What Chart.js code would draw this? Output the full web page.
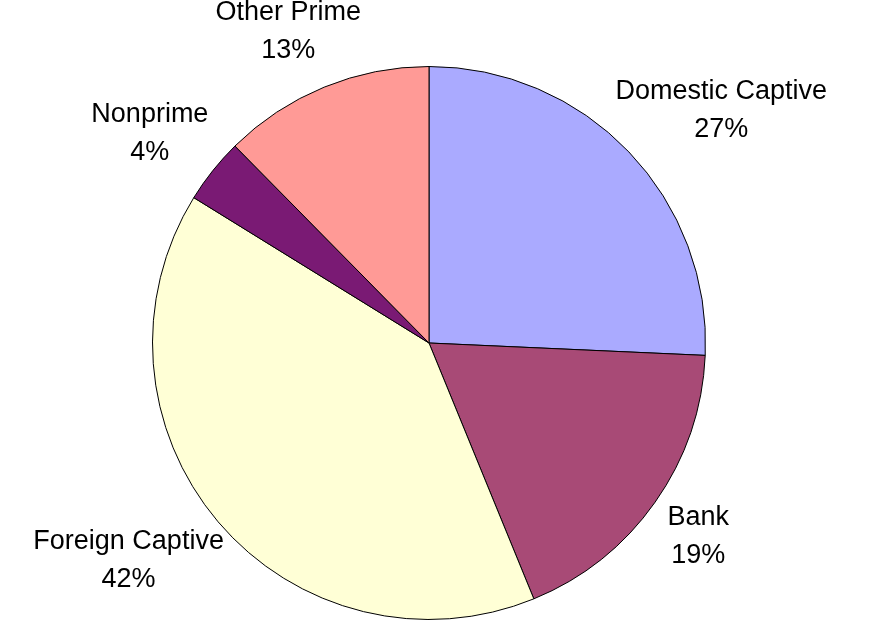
<!DOCTYPE html>
<html>
<head>
<meta charset="utf-8">
<title>Auto finance market share</title>
<script src="https://cdn.jsdelivr.net/npm/chart.js@4.4.1/dist/chart.umd.min.js"></script>
<style>
  html, body { margin: 0; padding: 0; background: #ffffff; }
  #wrap { width: 878px; height: 629px; }
</style>
</head>
<body>
<div id="wrap"><canvas id="pie" width="878" height="629"></canvas></div>
<script>
// Share of lending by lender type (percent)
const categories = ['Domestic Captive', 'Bank', 'Foreign Captive', 'Nonprime', 'Other Prime'];
const shares = [27, 19, 42, 4, 13];
const sliceColors = ['#AAAAFF', '#A84A76', '#FFFFD6', '#7A1A74', '#FF9A96'];

const FONT = '27px "Liberation Sans", Arial, sans-serif';
const LINE_H = 38;
const LABEL_GAP = 22;

// Two-line category/percent labels placed just outside each slice
const outsideLabels = {
  id: 'outsideLabels',
  afterDatasetsDraw(chart) {
    const ctx = chart.ctx;
    const meta = chart.getDatasetMeta(0);
    ctx.save();
    ctx.font = FONT;
    ctx.fillStyle = '#000000';
    ctx.textAlign = 'center';
    ctx.textBaseline = 'middle';
    meta.data.forEach((arc, i) => {
      const p = arc.getProps(['x', 'y', 'startAngle', 'endAngle', 'outerRadius'], true);
      const mid = (p.startAngle + p.endAngle) / 2;
      const ux = Math.cos(mid), uy = Math.sin(mid);
      const lines = [categories[i], shares[i] + '%'];
      const w = Math.max(...lines.map(t => ctx.measureText(t).width));
      const h = LINE_H * lines.length;
      const ax = p.x + (p.outerRadius + LABEL_GAP) * ux;
      const ay = p.y + (p.outerRadius + LABEL_GAP) * uy;
      const cx = ax + ux * w / 2;
      const cy = ay + uy * h / 2;
      lines.forEach((t, k) => {
        ctx.fillText(t, cx, cy - h / 2 + LINE_H * (k + 0.5));
      });
    });
    ctx.restore();
  }
};

new Chart(document.getElementById('pie'), {
  type: 'pie',
  data: {
    labels: categories,
    datasets: [{
      data: shares,
      backgroundColor: sliceColors,
      borderColor: '#000000',
      borderWidth: 1,
      hoverOffset: 0
    }]
  },
  options: {
    responsive: false,
    animation: false,
    layout: { padding: { left: 152, right: 172, top: 66, bottom: 9 } },
    plugins: {
      legend: { display: false },
      tooltip: { enabled: false }
    }
  },
  plugins: [outsideLabels]
});
</script>
</body>
</html>
